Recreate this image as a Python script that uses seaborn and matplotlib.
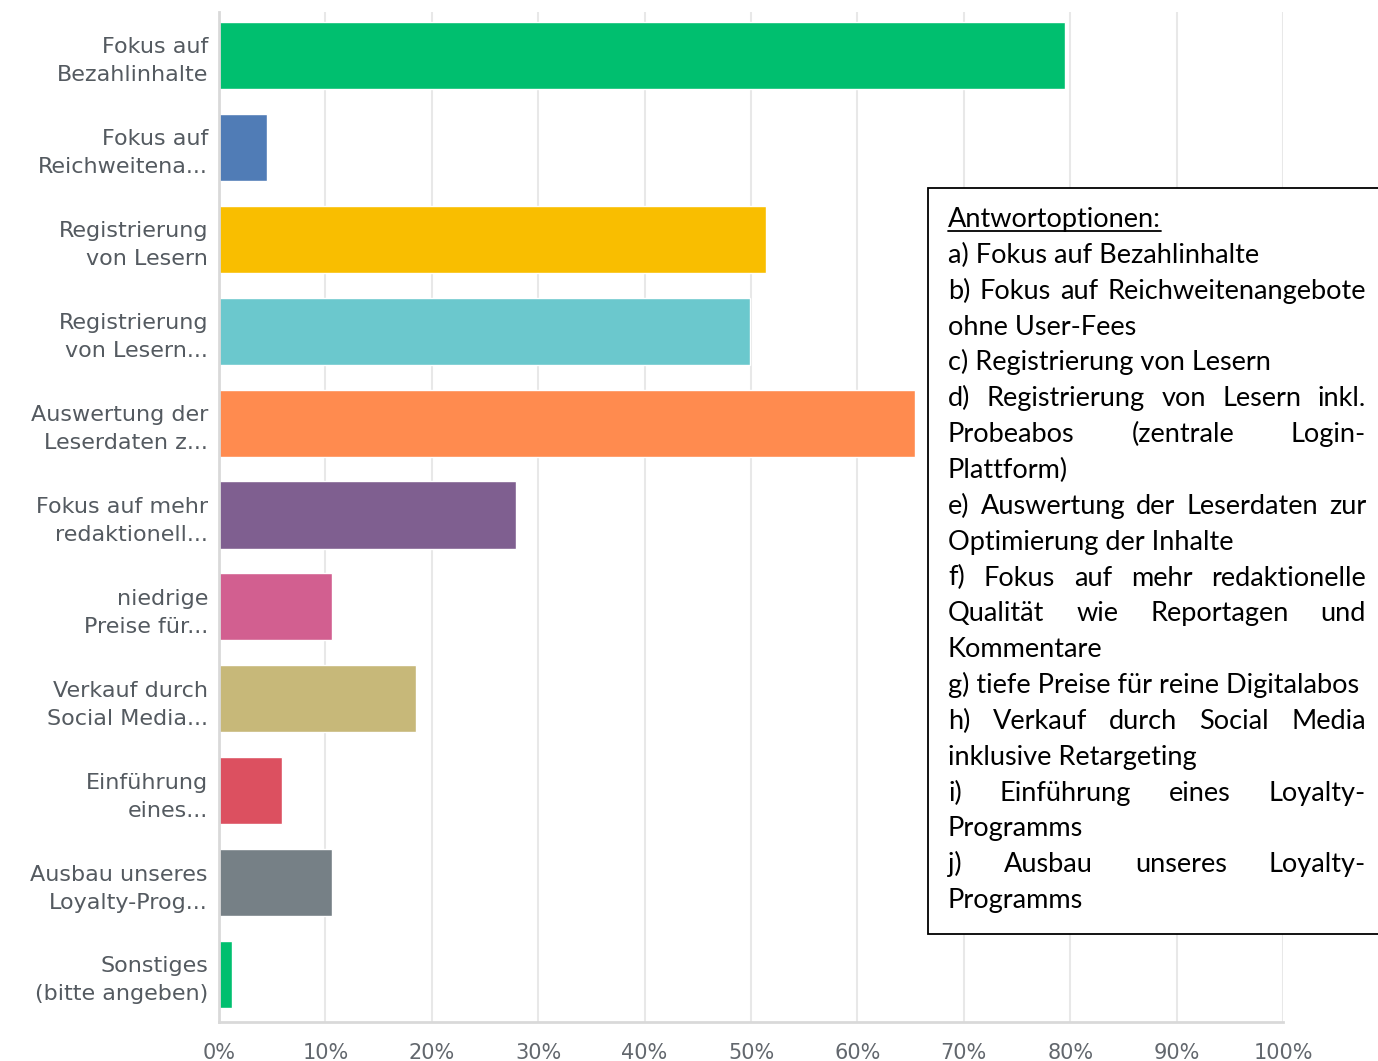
import matplotlib
matplotlib.use("Agg")
import matplotlib.pyplot as plt
from matplotlib.patches import Rectangle
from matplotlib.lines import Line2D
import seaborn as sns
import pandas as pd

# Survey answers (shortened like in the original chart) and share of respondents in %
labels = [
    "Fokus auf\nBezahlinhalte",
    "Fokus auf\nReichweitena...",
    "Registrierung\nvon Lesern",
    "Registrierung\nvon Lesern...",
    "Auswertung der\nLeserdaten z...",
    "Fokus auf mehr\nredaktionell...",
    "niedrige\nPreise für...",
    "Verkauf durch\nSocial Media...",
    "Einführung\neines...",
    "Ausbau unseres\nLoyalty-Prog...",
    "Sonstiges\n(bitte angeben)",
]
values = [79.5, 4.5, 51.4, 49.9, 65.4, 27.9, 10.6, 18.5, 5.9, 10.6, 1.2]
colors = ["#00BF6F", "#507CB6", "#F9BE00", "#6BC8CD", "#FF8B4F", "#7F5F90",
          "#D25F90", "#C7B879", "#DC5060", "#768086", "#00BF6F"]
ticks = list(range(0, 101, 10))
tick_labels = [f"{t}%" for t in ticks]

# Text box with the full answer options (True = justified line)
legend_title = "Antwortoptionen:"
legend_lines = [
    ("a) Fokus auf Bezahlinhalte", False),
    ("b) Fokus auf Reichweitenangebote", True),
    ("ohne User-Fees", False),
    ("c) Registrierung von Lesern", False),
    ("d) Registrierung von Lesern inkl.", True),
    ("Probeabos (zentrale Login-", True),
    ("Plattform)", False),
    ("e) Auswertung der Leserdaten zur", True),
    ("Optimierung der Inhalte", False),
    ("f) Fokus auf mehr redaktionelle", True),
    ("Qualität wie Reportagen und", True),
    ("Kommentare", False),
    ("g) tiefe Preise für reine Digitalabos", False),
    ("h) Verkauf durch Social Media", True),
    ("inklusive Retargeting", False),
    ("i) Einführung eines Loyalty-", True),
    ("Programms", False),
    ("j) Ausbau unseres Loyalty-", True),
    ("Programms", False),
]

W, H = 1378, 1061


def fx(px):
    return px / W


def fy(py):
    return 1 - py / H


sns.set_theme(style="white")
plt.rcParams['font.family'] = ['DejaVu Sans']

fig = plt.figure(figsize=(W / 100, H / 100), dpi=100)
ax = fig.add_axes([fx(219), fy(1022), (1283 - 219) / W, (1022 - 12) / H])

df = pd.DataFrame({"option": labels, "pct": values})
sns.barplot(data=df, x="pct", y="option", hue="option", palette=colors,
            legend=False, width=0.73, saturation=1, ax=ax)

ax.set_xlim(0, 100)
ax.set_ylim(10.517, -0.473)
ax.set_xticks(ticks)
ax.set_xticklabels(tick_labels)
ax.set_xlabel("")
ax.set_ylabel("")
ax.xaxis.grid(True, color="#e8e8e8", lw=1.5)
ax.set_axisbelow(True)
for side in ["top", "right"]:
    ax.spines[side].set_visible(False)
for side in ["left", "bottom"]:
    ax.spines[side].set_color("#d9d9d9")
    ax.spines[side].set_linewidth(2)

ax.tick_params(axis="y", length=0, pad=8, labelsize=16, labelcolor="#545a60")
ax.tick_params(axis="x", length=0, pad=15, labelsize=15, labelcolor="#62676d")
for t in ax.get_yticklabels():
    t.set_linespacing(1.5)
    t.set_family("DejaVu Sans")
for t in ax.get_xticklabels():
    t.set_family("DejaVu Sans")

# answer options box
fig.add_artist(Rectangle((fx(928), fy(934)), (1400 - 928) / W, (934 - 188) / H,
                         transform=fig.transFigure, facecolor="white",
                         edgecolor="black", lw=1.3, zorder=2.5))

renderer = fig.canvas.get_renderer()
x0, x1 = 948, 1366
font = dict(fontsize=19.5, family=["Lato", "DejaVu Sans"], color="#000000",
            va="baseline", ha="left", zorder=4)

title = fig.text(fx(x0), fy(227), legend_title, **font)
tw = title.get_window_extent(renderer).width
fig.add_artist(Line2D([fx(x0), fx(x0 + tw)], [fy(231), fy(231)],
                      transform=fig.transFigure, color="#000000", lw=1.3, zorder=4))

for i, (line, justify) in enumerate(legend_lines):
    base = fy(227 + (i + 1) * 35.85)
    if not justify:
        fig.text(fx(x0), base, line, **font)
        continue
    words = line.split()
    texts = [fig.text(0, base, w, **font) for w in words]
    widths = [t.get_window_extent(renderer).width for t in texts]
    gap = (x1 - x0 - sum(widths)) / (len(words) - 1)
    x = x0
    for t, w in zip(texts, widths):
        t.set_x(fx(x))
        x += w + gap

fig.savefig("out.png", dpi=100)
